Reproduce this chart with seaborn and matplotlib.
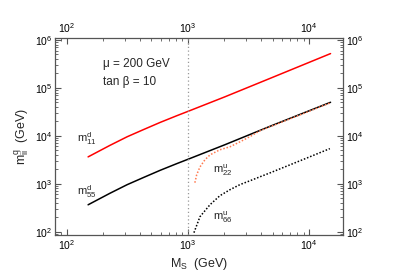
import matplotlib
matplotlib.use("Agg")
import matplotlib.pyplot as plt
import numpy as np
import pandas as pd
import seaborn as sns

# values (GeV)
ms_d = [150, 227, 315, 430, 590, 810, 1000, 2000, 4770, 15000]
m55_d = [363, 631, 955, 1349, 1905, 2630, 3236, 6457, 15850, 50100]
m11_d = [3630, 6310, 9550, 13490, 19050, 26300, 32360, 64570, 158500, 520000]

ms_22 = [1140, 1180, 1256, 1380, 1520, 1830, 2220, 2690, 3240, 3940, 6000, 15000]
m22_u = [1050, 1540, 2240, 3160, 4000, 5100, 5900, 7500, 9600, 12800, 19500, 49000]

ms_66 = [1120, 1256, 1520, 1830, 2220, 2690, 3240, 3940, 4770, 10000, 14800]
m66_u = [95, 205, 365, 560, 750, 960, 1150, 1400, 1690, 3600, 5400]

sns.set_style("ticks")
plt.rcParams['font.family'] = ['Liberation Sans', 'DejaVu Sans']
plt.rcParams['mathtext.fontset'] = 'custom'
plt.rcParams['mathtext.rm'] = 'Liberation Sans'
plt.rcParams['mathtext.it'] = 'Liberation Sans'

fig = plt.figure(figsize=(3.93, 2.75), dpi=100)
ax = fig.add_axes([55 / 393, 1 - 235 / 275, 288 / 393, 197 / 275])

d = pd.DataFrame({"ms": ms_d, "m11": m11_d, "m55": m55_d})
sns.lineplot(data=d, x="ms", y="m11", ax=ax, color="red", lw=1.1)
sns.lineplot(data=d, x="ms", y="m55", ax=ax, color="black", lw=1.1)
sns.lineplot(x=ms_22, y=m22_u, ax=ax, color="#ff7a50", lw=1.1, linestyle=(0, (1, 1.2)))
sns.lineplot(x=ms_66, y=m66_u, ax=ax, color="black", lw=1.1, linestyle=(0, (1, 1.2)))

ax.axvline(1000, color="#999999", lw=0.9, linestyle=(0, (1, 2)))

ax.set_xscale("log")
ax.set_yscale("log")
ax.set_xlim(80, 19000)
ax.set_ylim(85, 1.1e6)

for s in ax.spines.values():
    s.set_visible(True)
    s.set_color("#555555")
    s.set_linewidth(0.9)
ax.tick_params(which="both", direction="in", top=True, right=True,
               labeltop=True, labelright=True, labelsize=7.5, colors="#555555",
               labelcolor="black", pad=2)
ax.tick_params(which="major", length=4)
ax.tick_params(which="minor", length=2)

ax.set_xlabel(r"M$_{\rm S}$  (GeV)", fontsize=9, labelpad=3)
ax.set_ylabel(r"m$^{\rm q}_{\rm ii}$  (GeV)", fontsize=9, labelpad=2)

ax.text(0.165, 0.87, r"μ = 200 GeV", transform=ax.transAxes, fontsize=8.5, va="center")
ax.text(0.165, 0.775, r"tan β = 10", transform=ax.transAxes, fontsize=8.5, va="center")

ax.text(121, 8700, r"m$^{\rm d}_{\rm 11}$", fontsize=8, va="center")
ax.text(121, 680, r"m$^{\rm d}_{\rm 55}$", fontsize=8, va="center")
ax.text(1610, 1950, r"m$^{\rm u}_{\rm 22}$", fontsize=8, va="center")
ax.text(1610, 195, r"m$^{\rm u}_{\rm 66}$", fontsize=8, va="center")

plt.savefig("out.png", dpi=100)
